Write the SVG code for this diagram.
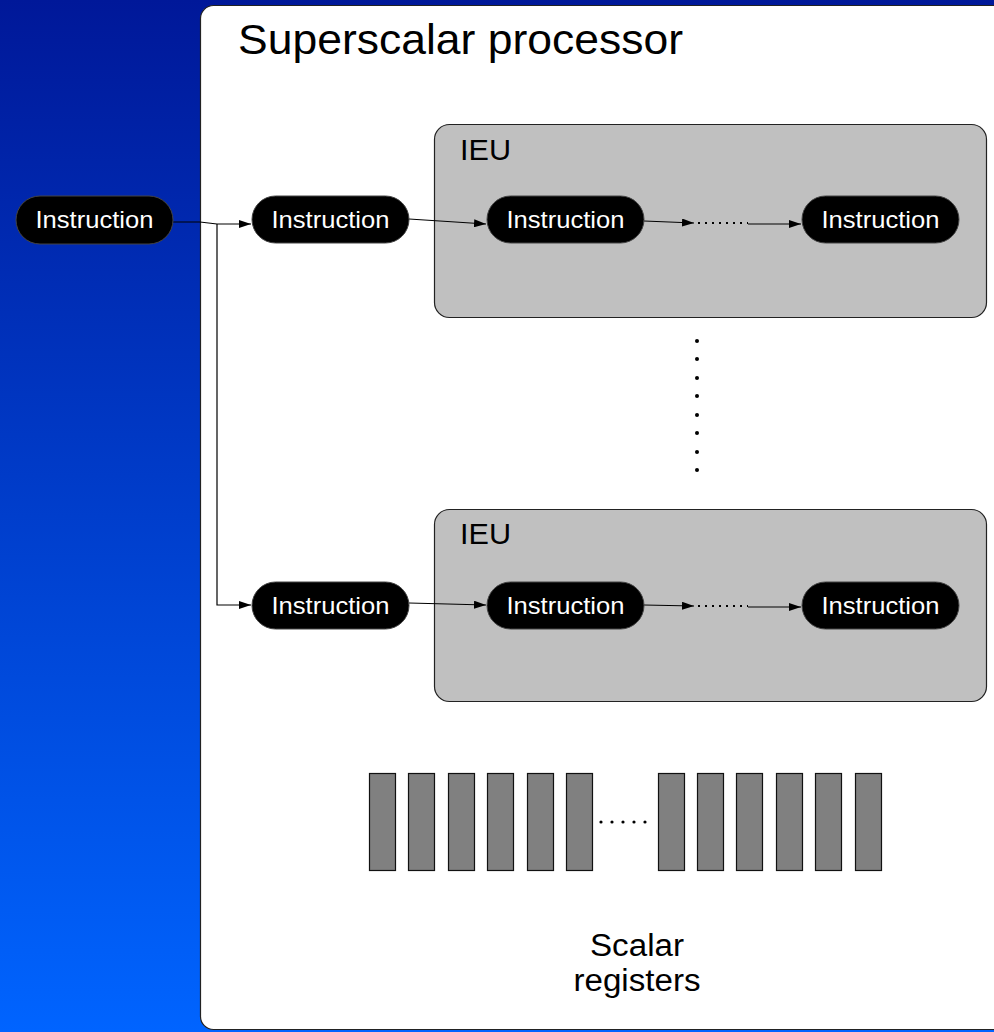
<svg xmlns="http://www.w3.org/2000/svg" width="994" height="1032" viewBox="0 0 994 1032">
  <defs>
    <linearGradient id="bg" x1="0" y1="0" x2="0" y2="1">
      <stop offset="0" stop-color="#001899"/>
      <stop offset="1" stop-color="#0064ff"/>
    </linearGradient>
    <marker id="arrow" viewBox="0 0 12 8" refX="12" refY="4" markerWidth="12" markerHeight="8" markerUnits="userSpaceOnUse" orient="auto">
      <path d="M0,0 L12,4 L0,8 z" fill="#000"/>
    </marker>
  </defs>
  <style>
    .pill { fill: #000; stroke: #444; stroke-width: 1; }
    .pill-text { fill: #fff; font-family: "Liberation Sans", Arial, sans-serif; font-size: 24px; text-anchor: middle; }
    .ieu { fill: #c0c0c0; stroke: #222; stroke-width: 1.2; }
    .ieu-label { fill: #000; font-family: "Liberation Sans", Arial, sans-serif; font-size: 30px; }
    .wire { fill: none; stroke: #000; stroke-width: 1.2; }
    .dotted { fill: none; stroke: #000; stroke-width: 2; stroke-dasharray: 2 5; }
    .reg { fill: #808080; stroke: #111; stroke-width: 1.2; }
    .dot { fill: #000; }
    .label { fill: #000; font-family: "Liberation Sans", Arial, sans-serif; }
  </style>

  <!-- background -->
  <rect x="0" y="0" width="994" height="1032" fill="url(#bg)"/>

  <!-- processor panel -->
  <g id="processor">
    <rect x="200.5" y="5.5" width="820" height="1024" rx="13" fill="#fff" stroke="#222" stroke-width="1.2"/>
    <text class="label" x="238" y="54" font-size="42" textLength="445" lengthAdjust="spacingAndGlyphs">Superscalar processor</text>
  </g>

  <!-- execution units -->
  <g id="ieu-1">
    <rect class="ieu" x="434.5" y="124.5" width="552" height="193" rx="15"/>
    <text class="ieu-label" x="460" y="160" textLength="51" lengthAdjust="spacingAndGlyphs">IEU</text>
  </g>
  <g id="ieu-2">
    <rect class="ieu" x="434.5" y="509.5" width="552" height="192" rx="15"/>
    <text class="ieu-label" x="460" y="544" textLength="51" lengthAdjust="spacingAndGlyphs">IEU</text>
  </g>

  <!-- connectors -->
  <g id="connectors">
    <path class="wire" d="M173,222 H200 L217,224 H251" marker-end="url(#arrow)"/>
    <path class="wire" d="M217,224 V605 H251" marker-end="url(#arrow)"/>
    <path class="wire" d="M409,219 L486,224" marker-end="url(#arrow)"/>
    <path class="wire" d="M409,603 L486,605" marker-end="url(#arrow)"/>
    <path class="wire" d="M644,221 L694,223" marker-end="url(#arrow)"/>
    <path class="dotted" d="M698,223 H748"/>
    <path class="wire" d="M748,224 H801" marker-end="url(#arrow)"/>
    <path class="wire" d="M644,605 L694,606" marker-end="url(#arrow)"/>
    <path class="dotted" d="M698,606 H748"/>
    <path class="wire" d="M748,607 H801" marker-end="url(#arrow)"/>
  </g>

  <!-- instruction nodes -->
  <g id="instr-in">
    <rect class="pill" x="16" y="196" width="157" height="48" rx="24"/>
    <text class="pill-text" x="94.5" y="228" textLength="118" lengthAdjust="spacingAndGlyphs">Instruction</text>
  </g>
  <g id="instr-1a">
    <rect class="pill" x="252" y="196" width="157" height="47" rx="23.5"/>
    <text class="pill-text" x="330.5" y="228" textLength="118" lengthAdjust="spacingAndGlyphs">Instruction</text>
  </g>
  <g id="instr-1b">
    <rect class="pill" x="487" y="196" width="157" height="47" rx="23.5"/>
    <text class="pill-text" x="565.5" y="228" textLength="118" lengthAdjust="spacingAndGlyphs">Instruction</text>
  </g>
  <g id="instr-1c">
    <rect class="pill" x="802" y="196" width="157" height="47" rx="23.5"/>
    <text class="pill-text" x="880.5" y="228" textLength="118" lengthAdjust="spacingAndGlyphs">Instruction</text>
  </g>
  <g id="instr-2a">
    <rect class="pill" x="252" y="582" width="157" height="47" rx="23.5"/>
    <text class="pill-text" x="330.5" y="614" textLength="118" lengthAdjust="spacingAndGlyphs">Instruction</text>
  </g>
  <g id="instr-2b">
    <rect class="pill" x="487" y="582" width="157" height="47" rx="23.5"/>
    <text class="pill-text" x="565.5" y="614" textLength="118" lengthAdjust="spacingAndGlyphs">Instruction</text>
  </g>
  <g id="instr-2c">
    <rect class="pill" x="802" y="582" width="157" height="47" rx="23.5"/>
    <text class="pill-text" x="880.5" y="614" textLength="118" lengthAdjust="spacingAndGlyphs">Instruction</text>
  </g>

  <!-- vertical ellipsis between units -->
  <g id="unit-ellipsis">
    <circle class="dot" cx="697" cy="341" r="2"/>
    <circle class="dot" cx="697" cy="359" r="2"/>
    <circle class="dot" cx="697" cy="378" r="2"/>
    <circle class="dot" cx="697" cy="396" r="2"/>
    <circle class="dot" cx="697" cy="415" r="2"/>
    <circle class="dot" cx="697" cy="433" r="2"/>
    <circle class="dot" cx="697" cy="452" r="2"/>
    <circle class="dot" cx="697" cy="470" r="2"/>
  </g>

  <!-- scalar register file -->
  <g id="registers">
    <rect class="reg" x="369.5" y="773.5" width="26" height="97"/>
    <rect class="reg" x="408.5" y="773.5" width="26" height="97"/>
    <rect class="reg" x="448.5" y="773.5" width="26" height="97"/>
    <rect class="reg" x="487.5" y="773.5" width="26" height="97"/>
    <rect class="reg" x="527.5" y="773.5" width="26" height="97"/>
    <rect class="reg" x="566.5" y="773.5" width="26" height="97"/>
    <circle class="dot" cx="601" cy="822" r="1.6"/>
    <circle class="dot" cx="612" cy="822" r="1.6"/>
    <circle class="dot" cx="623" cy="822" r="1.6"/>
    <circle class="dot" cx="634" cy="822" r="1.6"/>
    <circle class="dot" cx="645" cy="822" r="1.6"/>
    <rect class="reg" x="658.5" y="773.5" width="26" height="97"/>
    <rect class="reg" x="697.5" y="773.5" width="26" height="97"/>
    <rect class="reg" x="736.5" y="773.5" width="26" height="97"/>
    <rect class="reg" x="776.5" y="773.5" width="26" height="97"/>
    <rect class="reg" x="815.5" y="773.5" width="26" height="97"/>
    <rect class="reg" x="855.5" y="773.5" width="26" height="97"/>
    <text class="label" x="637" y="956" font-size="31" text-anchor="middle" textLength="94" lengthAdjust="spacingAndGlyphs">Scalar</text>
    <text class="label" x="637" y="991" font-size="31" text-anchor="middle" textLength="127" lengthAdjust="spacingAndGlyphs">registers</text>
  </g>
</svg>
